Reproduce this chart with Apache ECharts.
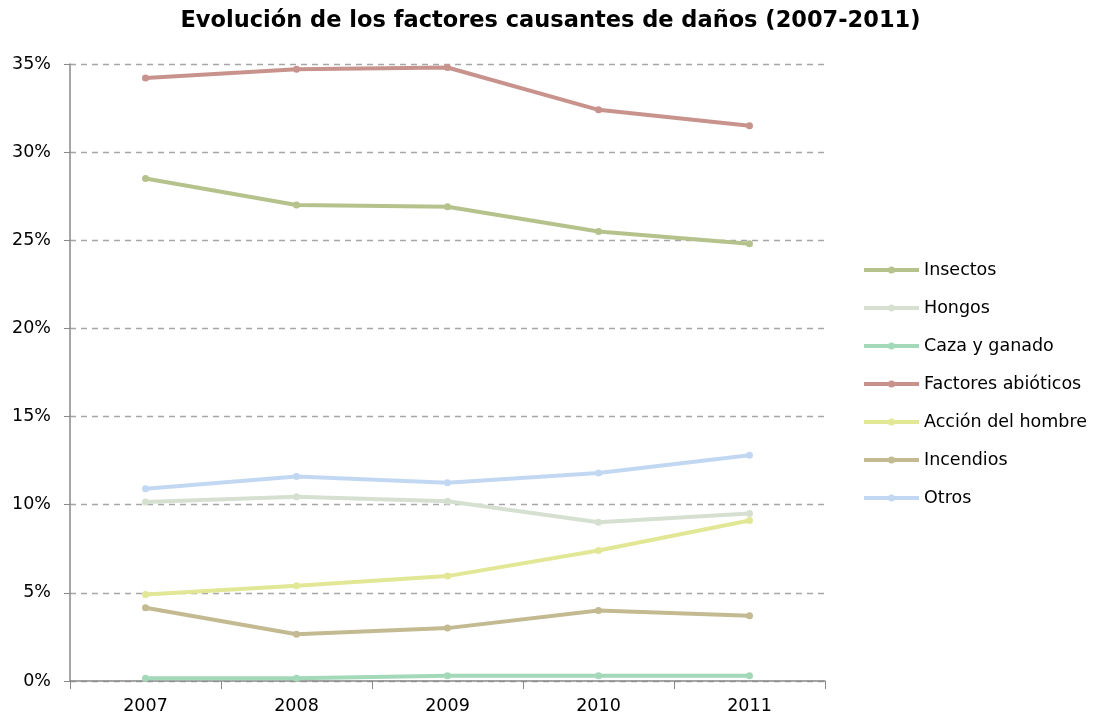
<!DOCTYPE html>
<html>
<head>
<meta charset="utf-8">
<script src="https://cdn.jsdelivr.net/npm/echarts@6/dist/echarts.min.js"></script>
<style>html,body{margin:0;padding:0;background:#fff}#c{width:1101px;height:717px}</style>
</head>
<body>
<div id="c"></div>
<script>
const years = ['2007','2008','2009','2010','2011'];
const insectos = [28.5, 27.0, 26.9, 25.5, 24.8];
const hongos = [10.15, 10.45, 10.2, 9.0, 9.5];
const caza = [0.15, 0.15, 0.3, 0.3, 0.3];
const abioticos = [34.2, 34.7, 34.8, 32.4, 31.5];
const accion = [4.9, 5.4, 5.95, 7.4, 9.1];
const incendios = [4.15, 2.65, 3.0, 4.0, 3.7];
const otros = [10.9, 11.6, 11.25, 11.8, 12.8];
const seriesNames = ['Insectos','Hongos','Caza y ganado','Factores abióticos','Acción del hombre','Incendios','Otros'];
const seriesData = [insectos, hongos, caza, abioticos, accion, incendios, otros];
const colors = ['#b5c28c','#d5e0d1','#a3d8b8','#c8938d','#e2e796','#c3ba92','#c2d8f2'];

const legendIcon = 'path://M0,1.5 L55,1.5 L55,5.5 L0,5.5 Z M24,3.5 A3.5,3.5 0 1 1 31,3.5 A3.5,3.5 0 1 1 24,3.5 Z';

const chart = echarts.init(document.getElementById('c'));
chart.setOption({
  animation: false,
  title: {
    text: 'Evolución de los factores causantes de daños (2007-2011)',
    left: 'center', top: 5,
    textStyle: {fontFamily: 'DejaVu Sans', fontWeight: 'bold', fontSize: 22.5, color: '#000'}
  },
  legend: {
    orient: 'vertical', left: 859, top: 256,
    itemWidth: 55, itemHeight: 7, itemGap: 20,
    icon: legendIcon,
    textStyle: {fontFamily: 'DejaVu Sans', fontSize: 17.5, color: '#000'},
    data: seriesNames.map(n => ({name: n, icon: legendIcon}))
  },
  grid: {left: 70, right: 276, top: 64, bottom: 36, containLabel: false},
  xAxis: {
    type: 'category', data: years, boundaryGap: true,
    axisLine: {lineStyle: {color: '#888', width: 1.5}},
    axisTick: {show: true, length: 8, lineStyle: {color: '#888'}},
    axisLabel: {fontFamily: 'DejaVu Sans', fontSize: 17.5, color: '#000', margin: 16}
  },
  yAxis: {
    type: 'value', min: 0, max: 35, interval: 5,
    axisLine: {show: true, lineStyle: {color: '#888', width: 1.5}},
    axisTick: {show: true, length: 6, lineStyle: {color: '#888'}},
    axisLabel: {fontFamily: 'DejaVu Sans', fontSize: 17.5, color: '#000', margin: 19, formatter: v => v + '%'},
    splitLine: {lineStyle: {color: '#a6a6a6', type: [6,5], width: 1.3}}
  },
  series: seriesNames.map((n, i) => ({
    name: n, type: 'line', data: seriesData[i],
    symbol: 'circle', symbolSize: 7,
    lineStyle: {width: 4, color: colors[i]},
    itemStyle: {color: colors[i]},
    z: 3
  }))
});
</script>
</body>
</html>
